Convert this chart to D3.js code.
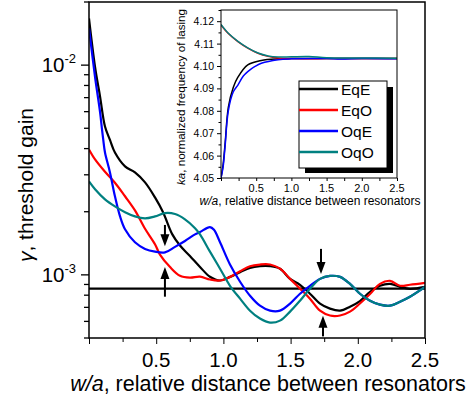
<!DOCTYPE html>
<html>
<head>
<meta charset="utf-8">
<script src="https://cdn.jsdelivr.net/npm/d3@7"></script>
<style>
  body { margin: 0; background: #fff; }
  text { font-family: "Liberation Sans", Arial, sans-serif; }
</style>
</head>
<body>
<svg class="target"></svg>
<script>
// main panel: threshold gain vs w/a, [w/a, gain]
const eqE = [[0, 0.0167], [0.045, 0.0098], [0.082, 0.0071], [0.119, 0.0051], [0.156, 0.0044], [0.193, 0.00383],
  [0.268, 0.00329], [0.342, 0.00308], [0.417, 0.00276], [0.491, 0.00234], [0.551, 0.00199], [0.62, 0.00156],
  [0.677, 0.00138], [0.751, 0.00123], [0.826, 0.00109], [0.9, 0.00098], [0.975, 0.00094], [1.049, 0.000978],
  [1.124, 0.00103], [1.198, 0.00108], [1.272, 0.0011], [1.347, 0.0011], [1.421, 0.00107], [1.496, 0.000957],
  [1.57, 0.000897], [1.644, 0.000813], [1.719, 0.000729], [1.793, 0.00069], [1.868, 0.000675], [1.942, 0.000705],
  [2.016, 0.00075], [2.091, 0.00083], [2.165, 0.000887], [2.24, 0.000906], [2.314, 0.000877], [2.388, 0.000858],
  [2.5, 0.000877]];
const eqO = [[0, 0.00396], [0.045, 0.00355], [0.119, 0.0031], [0.193, 0.00275], [0.268, 0.00237], [0.342, 0.00203],
  [0.417, 0.00166], [0.491, 0.0014], [0.528, 0.00125], [0.603, 0.00109], [0.677, 0.00099], [0.751, 0.00097],
  [0.826, 0.00098], [0.9, 0.00095], [0.975, 0.00094], [1.049, 0.000978], [1.124, 0.00104], [1.198, 0.0011],
  [1.272, 0.00112], [1.347, 0.00112], [1.421, 0.00107], [1.496, 0.000957], [1.57, 0.00086], [1.644, 0.00077],
  [1.719, 0.000675], [1.793, 0.00064], [1.868, 0.00064], [1.942, 0.000668], [2.016, 0.00073], [2.091, 0.00081],
  [2.165, 0.000906], [2.24, 0.000937], [2.314, 0.000887], [2.388, 0.000897], [2.5, 0.000916]];
const oqE = [[0, 0.01497], [0.045, 0.00877], [0.082, 0.00599], [0.097, 0.00492], [0.106, 0.00441], [0.119, 0.00383],
  [0.156, 0.00308], [0.193, 0.00237], [0.231, 0.0019], [0.268, 0.00165], [0.342, 0.00143], [0.417, 0.00133],
  [0.491, 0.00129], [0.565, 0.00128], [0.64, 0.00136], [0.714, 0.00145], [0.789, 0.00156], [0.826, 0.0016],
  [0.9, 0.00169], [0.93, 0.00164], [0.975, 0.00143], [1.049, 0.00112], [1.124, 0.000927], [1.198, 0.000795],
  [1.272, 0.000713], [1.347, 0.000675], [1.421, 0.000675], [1.496, 0.000729], [1.57, 0.000813], [1.644, 0.000887],
  [1.719, 0.000957], [1.793, 0.000989], [1.868, 0.000978], [1.942, 0.000906], [2.016, 0.000813], [2.091, 0.000753],
  [2.165, 0.000721], [2.24, 0.000713], [2.314, 0.000745], [2.388, 0.000787], [2.5, 0.000877]];
const oqO = [[0, 0.00279], [0.045, 0.00256], [0.119, 0.00229], [0.193, 0.00212], [0.268, 0.00199], [0.342, 0.0019],
  [0.417, 0.00186], [0.491, 0.0019], [0.565, 0.00197], [0.64, 0.00195], [0.714, 0.00184], [0.789, 0.00167],
  [0.826, 0.00156], [0.9, 0.00129], [0.975, 0.00107], [1.049, 0.000887], [1.124, 0.00077], [1.198, 0.000675],
  [1.272, 0.000619], [1.347, 0.000592], [1.421, 0.000605], [1.496, 0.000668], [1.57, 0.000753], [1.644, 0.000858],
  [1.719, 0.000957], [1.793, 0.000989], [1.868, 0.000978], [1.942, 0.000906], [2.016, 0.000813], [2.091, 0.000753],
  [2.165, 0.000721], [2.24, 0.000713], [2.314, 0.000745], [2.388, 0.000787], [2.5, 0.000877]];
const gainLevel = 0.00086;
// arrows: [w/a, gain at tail, gain at tip]
const arrows = [[0.565, 0.00173, 0.00137], [0.565, 0.000787, 0.00109], [1.726, 0.00133, 0.00101], [1.741, 0.000509, 0.000639]];

// inset: normalized frequency ka vs w/a
const fEqE = [[0, 4.05], [0.03, 4.056], [0.06, 4.066], [0.104, 4.0815], [0.175, 4.0905], [0.24, 4.095], [0.38, 4.1005],
  [0.573, 4.1025], [0.81, 4.1032], [1.0, 4.1033], [1.5, 4.1033], [2.0, 4.1033], [2.5, 4.1033]];
const fEqO = [[0, 4.1183], [0.1, 4.1146], [0.24, 4.1109], [0.38, 4.108], [0.525, 4.1057], [0.67, 4.1043], [0.81, 4.1036],
  [1.0, 4.1033], [1.5, 4.1033], [2.0, 4.1034], [2.5, 4.1033]];
const fOqE = [[0, 4.05], [0.03, 4.055], [0.057, 4.0638], [0.104, 4.08], [0.175, 4.0885], [0.24, 4.0915], [0.317, 4.0955],
  [0.38, 4.0975], [0.483, 4.0998], [0.573, 4.1012], [0.81, 4.1028], [1.0, 4.1032], [1.5, 4.1033], [1.7, 4.1031],
  [2.0, 4.1033], [2.5, 4.1032]];
const fOqO = [[0, 4.1185], [0.1, 4.1147], [0.24, 4.111], [0.38, 4.1081], [0.525, 4.1058], [0.67, 4.1045], [0.81, 4.104],
  [1.0, 4.1041], [1.25, 4.1042], [1.5, 4.1037], [2.0, 4.1036], [2.5, 4.1035]];

const seriesNames = ["EqE", "EqO", "OqE", "OqO"];
const seriesColors = ["#000000", "#ff0000", "#0000ff", "#008080"];
const mainTicks = [0.5, 1.0, 1.5, 2.0, 2.5];
const insetYTicks = [4.05, 4.06, 4.07, 4.08, 4.09, 4.10, 4.11, 4.12];

const width = 474, height = 400;
const svg = d3.select(".target").attr("width", width).attr("height", height);
svg.append("rect").attr("width", width).attr("height", height).attr("fill", "#fff");

// ---- main panel
const x = d3.scaleLinear().domain([0, 2.5]).range([89, 425]);
const y = d3.scaleLog().domain([5e-4, 2e-2]).range([338, 2]);

svg.append("clipPath").attr("id", "clipMain").append("rect")
  .attr("x", 89).attr("y", 2).attr("width", 336).attr("height", 336);

const line = d3.line().x(d => x(d[0])).y(d => y(d[1])).curve(d3.curveCatmullRom.alpha(0.5));
const gMain = svg.append("g").attr("clip-path", "url(#clipMain)");

gMain.append("line").attr("x1", x(0)).attr("x2", x(2.5))
  .attr("y1", y(gainLevel)).attr("y2", y(gainLevel))
  .attr("stroke", "#000").attr("stroke-width", 2.2);

[eqE, eqO, oqE, oqO].forEach(function(s, i) {
  gMain.append("path").datum(s).attr("d", line)
    .attr("fill", "none").attr("stroke", seriesColors[i]).attr("stroke-width", 2.2);
});

arrows.forEach(function(a) {
  const ax = x(a[0]), y0 = y(a[1]), y1 = y(a[2]);
  const dir = y1 > y0 ? 1 : -1;
  svg.append("line").attr("x1", ax).attr("x2", ax).attr("y1", y0).attr("y2", y1 - dir * 8)
    .attr("stroke", "#000").attr("stroke-width", 2);
  svg.append("path")
    .attr("d", `M${ax - 4.5},${y1 - dir * 12}L${ax + 4.5},${y1 - dir * 12}L${ax},${y1}Z`)
    .attr("fill", "#000");
});

// axes
const xAxis = svg.append("g").attr("transform", "translate(0,338)")
  .call(d3.axisBottom(x).tickValues(d3.range(0, 2.51, 0.25)).tickSize(5).tickFormat(""));
xAxis.selectAll(".tick line").attr("y2", d => (Math.round(d * 4) % 2 === 0 ? 6 : 4));
xAxis.select(".domain").remove();
mainTicks.forEach(function(t) {
  svg.append("text").attr("x", x(t)).attr("y", 367).attr("text-anchor", "middle")
    .attr("font-size", 20.5).text(t.toFixed(1));
});

const minor = [];
[1e-4, 1e-3].forEach(function(dec) {
  for (let k = 1; k <= 9; k++) {
    const v = k * dec;
    if (v >= 5e-4 && v <= 2e-2) minor.push(v);
  }
});
minor.push(1e-2, 2e-2);
svg.selectAll(".ytick").data(minor).enter().append("line")
  .attr("x1", d => (d === 1e-3 || d === 1e-2 ? 81 : 84)).attr("x2", 89)
  .attr("y1", d => y(d)).attr("y2", d => y(d)).attr("stroke", "#000").attr("stroke-width", 1.3);

[[1e-3, "-3"], [1e-2, "-2"]].forEach(function(t) {
  const tx = svg.append("text").attr("x", 76).attr("y", y(t[0]) + 7).attr("text-anchor", "end")
    .attr("font-size", 20.5);
  tx.append("tspan").text("10");
  tx.append("tspan").attr("dy", -9).attr("font-size", 13).text(t[1]);
});

// frame
svg.append("path").attr("d", "M89,2V338H425V2Z").attr("fill", "none")
  .attr("stroke", "#000").attr("stroke-width", 1.5);

// axis titles
const xt = svg.append("text").attr("x", 268).attr("y", 391).attr("text-anchor", "middle").attr("font-size", 21.5);
xt.append("tspan").attr("font-style", "italic").text("w/a");
xt.append("tspan").text(", relative distance between resonators");

const yt = svg.append("text").attr("transform", "translate(33,185) rotate(-90)")
  .attr("text-anchor", "middle").attr("font-size", 21);
yt.append("tspan").attr("font-style", "italic").text("γ");
yt.append("tspan").text(", threshold gain");

// ---- inset
const ix = d3.scaleLinear().domain([0, 2.5]).range([221, 397]);
const iy = d3.scaleLinear().domain([4.05, 4.125]).range([178, 10]);

svg.append("rect").attr("x", 221).attr("y", 10).attr("width", 176).attr("height", 168).attr("fill", "#fff");
svg.append("clipPath").attr("id", "clipInset").append("rect")
  .attr("x", 221).attr("y", 10).attr("width", 176).attr("height", 168);

const iline = d3.line().x(d => ix(d[0])).y(d => iy(d[1])).curve(d3.curveCatmullRom.alpha(0.5));
const gIn = svg.append("g").attr("clip-path", "url(#clipInset)");
[fEqE, fEqO, fOqE, fOqO].forEach(function(s, i) {
  gIn.append("path").datum(s).attr("d", iline)
    .attr("fill", "none").attr("stroke", seriesColors[i]).attr("stroke-width", 1.5);
});

const ixAxis = svg.append("g").attr("transform", "translate(0,178)")
  .call(d3.axisBottom(ix).tickValues(d3.range(0, 2.51, 0.25)).tickSize(3).tickFormat(""));
ixAxis.select(".domain").remove();
mainTicks.forEach(function(t) {
  svg.append("text").attr("x", ix(t)).attr("y", 192).attr("text-anchor", "middle")
    .attr("font-size", 11).text(t.toFixed(1));
});

const iyAxis = svg.append("g").attr("transform", "translate(221,0)")
  .call(d3.axisLeft(iy).tickValues(d3.range(4.05, 4.1251, 0.005)).tickSize(3).tickFormat(""));
iyAxis.selectAll(".tick line").attr("x2", (d, i) => (i % 2 === 0 ? -4 : -2.5));
iyAxis.select(".domain").remove();
insetYTicks.forEach(function(t) {
  svg.append("text").attr("x", 214).attr("y", iy(t) + 4).attr("text-anchor", "end")
    .attr("font-size", 10.5).text(t.toFixed(2));
});

svg.append("rect").attr("x", 221).attr("y", 10).attr("width", 176).attr("height", 168)
  .attr("fill", "none").attr("stroke", "#000").attr("stroke-width", 1);

const ixt = svg.append("text").attr("x", 310).attr("y", 205).attr("text-anchor", "middle").attr("font-size", 12);
ixt.append("tspan").attr("font-style", "italic").text("w/a");
ixt.append("tspan").text(", relative distance between resonators");

const iyt = svg.append("text").attr("transform", "translate(185,97) rotate(-90)")
  .attr("text-anchor", "middle").attr("font-size", 11.6);
iyt.append("tspan").attr("font-style", "italic").text("ka");
iyt.append("tspan").text(", normalized frequency of lasing");

// legend
svg.append("rect").attr("x", 305).attr("y", 87).attr("width", 88).attr("height", 86).attr("fill", "#000");
svg.append("rect").attr("x", 299).attr("y", 81).attr("width", 88).attr("height", 87)
  .attr("fill", "#fff").attr("stroke", "#000").attr("stroke-width", 1);
seriesNames.forEach(function(n, i) {
  const ly = 89 + i * 21;
  svg.append("line").attr("x1", 299).attr("x2", 338).attr("y1", ly).attr("y2", ly)
    .attr("stroke", seriesColors[i]).attr("stroke-width", 2.5);
  svg.append("text").attr("x", 341).attr("y", ly + 5.5).attr("font-size", 15.5).text(n);
});
</script>
</body>
</html>
